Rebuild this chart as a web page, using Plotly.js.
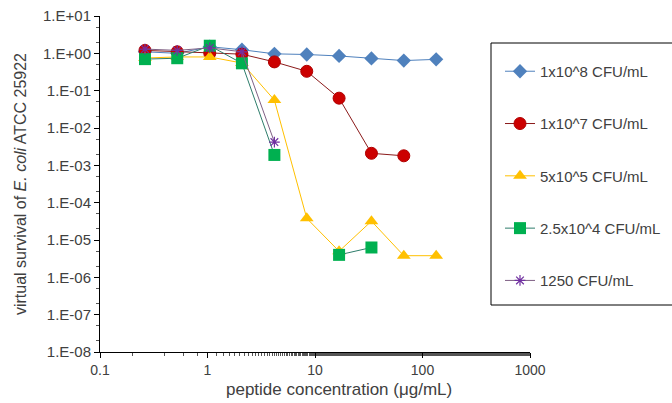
<!DOCTYPE html>
<html>
<head>
<meta charset="utf-8">
<script src="https://cdn.plot.ly/plotly-3.0.1.min.js"></script>
<style>html,body{margin:0;padding:0;background:#fff;}#chart{width:672px;height:403px;}</style>
</head>
<body>
<div id="chart"></div>
<script>
// peptide concentrations (µg/mL), two-fold dilutions
var conc = [0.262, 0.523, 1.05, 2.09, 4.19, 8.38, 16.75, 33.5, 67, 134];
var seriesNames = ["1x10^8 CFU/mL", "1x10^7 CFU/mL", "5x10^5 CFU/mL", "2.5x10^4 CFU/mL", "1250 CFU/mL"];
var surv1e8  = [1.1, 1.0, 1.5, 1.25, 0.97, 0.93, 0.85, 0.73, 0.64, 0.69];
var surv1e7  = [1.2, 1.1, 1.0, 0.95, 0.59, 0.33, 0.063, 0.0021, 0.0018, null];
var surv5e5  = [0.75, 0.8, 0.8, 0.55, 0.056, 3.8e-5, 5.0e-6, 3.2e-5, 3.8e-6, 3.8e-6];
var surv25e4 = [0.7, 0.74, 1.6, 0.54, 0.0019, null, 4.0e-6, 6.3e-6, null, null];
var surv1250 = [1.3, 1.2, 1.4, 1.1, 0.0042, null, null, null, null, null];
var yTickVals = [10, 1, 0.1, 0.01, 0.001, 1e-4, 1e-5, 1e-6, 1e-7, 1e-8];
var yTickText = ["1.E+01", "1.E+00", "1.E-01", "1.E-02", "1.E-03", "1.E-04", "1.E-05", "1.E-06", "1.E-07", "1.E-08"];
var xTickVals = [0.1, 1, 10, 100, 1000];
var xTickText = ["0.1", "1", "10", "100", "1000"];
var xTitle = "peptide concentration (\u03bcg/mL)";
var yTitle = "virtual survival of <i>E. coli</i> ATCC 25922";

var styles = [
  {line: "#4F81BD", marker: "#4F81BD", symbol: "diamond", size: 11},
  {line: "#8B1A1A", marker: "#CC0000", symbol: "circle", size: 12},
  {line: "#FFC000", marker: "#FFC000", symbol: "triangle-up", size: 12},
  {line: "#2E7D6B", marker: "#00B050", symbol: "square", size: 12},
  {line: "#7F6084", marker: "#7030A0", symbol: "asterisk-open", size: 9}
];
var ys = [surv1e8, surv1e7, surv5e5, surv25e4, surv1250];
var traces = ys.map(function(y, i) {
  var s = styles[i];
  return {
    x: conc, y: y, name: seriesNames[i], type: "scatter", mode: "lines+markers",
    connectgaps: false, legendgroup: "g" + i,
    line: {color: s.line, width: 1},
    marker: {symbol: s.symbol, size: s.size, color: s.marker,
             line: {color: s.symbol === "circle" ? "#B00000" : s.marker, width: s.symbol === "asterisk-open" ? 1.2 : (s.symbol === "circle" ? 1 : 0)}}
  };
});

var txt = "#404040";
var layout = {
  width: 672, height: 403,
  margin: {l: 100, r: 142, t: 16, b: 51, autoexpand: false},
  paper_bgcolor: "#fff", plot_bgcolor: "#fff",
  font: {family: "Arial, 'Liberation Sans', sans-serif", size: 14, color: txt},
  showlegend: true,
  xaxis: {
    type: "log", range: [-1, 3],
    tickvals: xTickVals, ticktext: xTickText,
    ticks: "outside", ticklen: 5, tickcolor: "#000",
    showline: true, linecolor: "#000", linewidth: 1,
    showgrid: false, zeroline: false,
    minor: {ticks: "outside", ticklen: 3, tickcolor: "#555", showgrid: false},
    tickfont: {size: 14, color: txt}
  },
  yaxis: {
    type: "log", range: [-8, 1],
    tickvals: yTickVals, ticktext: yTickText,
    ticks: "outside", ticklen: 5, tickcolor: "#000",
    showline: true, linecolor: "#000", linewidth: 1,
    showgrid: false, zeroline: false,
    minor: {ticks: "outside", ticklen: 3, tickcolor: "#555", showgrid: false},
    tickfont: {size: 15, color: txt},
    title: {text: yTitle, font: {size: 16, color: txt}, standoff: 12}
  },
  annotations: [{
    text: xTitle, xref: "paper", yref: "paper",
    x: (339 - 100) / 430, y: (352 - 389) / 336,
    xanchor: "center", yanchor: "middle", showarrow: false,
    font: {size: 17, color: txt}
  }],
  legend: {
    x: (500 - 100) / 430, xanchor: "left", xref: "paper",
    y: 0.884, yanchor: "top",
    bgcolor: "rgba(0,0,0,0)", borderwidth: 0,
    font: {size: 15, color: txt},
    tracegroupgap: 29.8, itemwidth: 30
  },
  shapes: [{
    type: "rect", xref: "paper", yref: "paper",
    x0: (491 - 100) / 430, x1: (680 - 100) / 430,
    y0: (352 - 305) / 336, y1: (352 - 43) / 336,
    line: {color: "#000", width: 1}, fillcolor: "rgba(0,0,0,0)"
  }]
};

Plotly.newPlot("chart", traces, layout, {displayModeBar: false, staticPlot: true});
</script>
</body>
</html>
